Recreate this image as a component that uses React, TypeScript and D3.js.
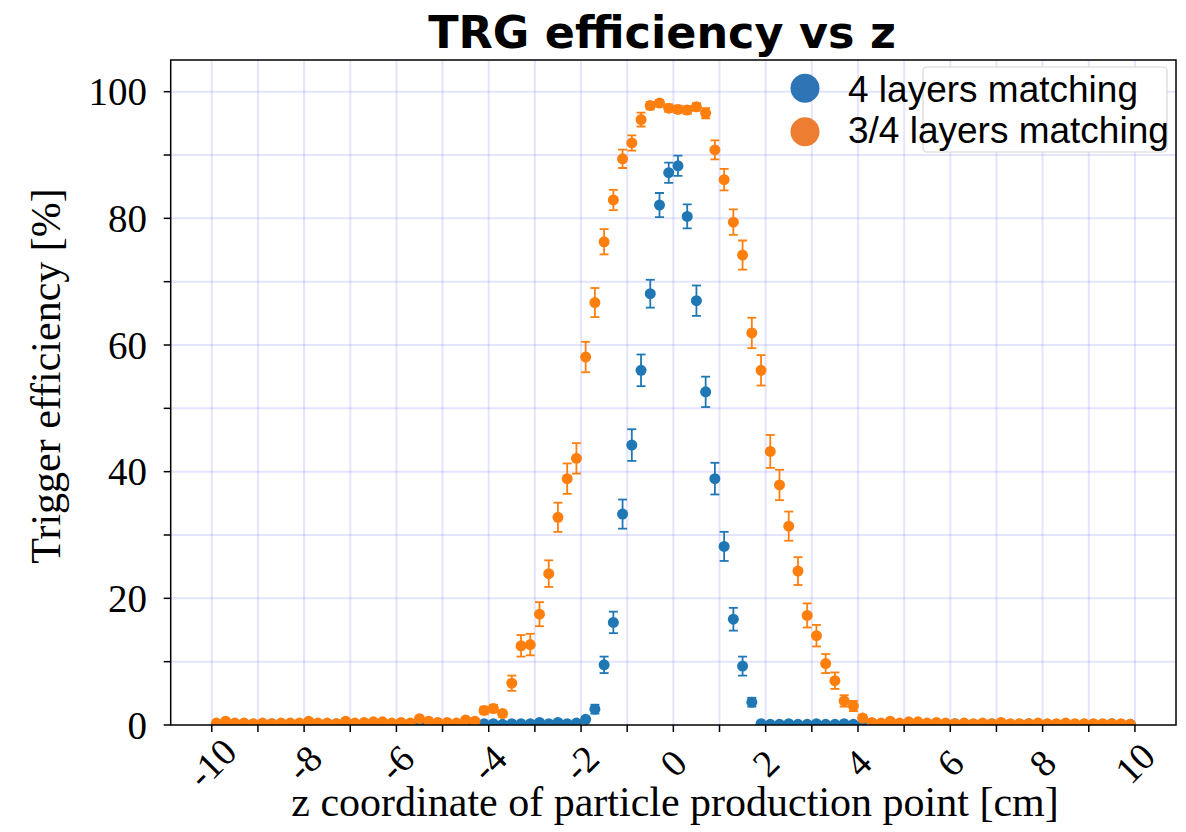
import React, { useEffect } from 'react';
import * as d3 from 'd3';

// ---- data (bin centres in cm) ----
const zCenters = [
  -9.9, -9.7, -9.5, -9.3, -9.1, -8.9, -8.7, -8.5, -8.3, -8.1,
  -7.9, -7.7, -7.5, -7.3, -7.1, -6.9, -6.7, -6.5, -6.3, -6.1,
  -5.9, -5.7, -5.5, -5.3, -5.1, -4.9, -4.7, -4.5, -4.3, -4.1,
  -3.9, -3.7, -3.5, -3.3, -3.1, -2.9, -2.7, -2.5, -2.3, -2.1,
  -1.9, -1.7, -1.5, -1.3, -1.1, -0.9, -0.7, -0.5, -0.3, -0.1,
  0.1, 0.3, 0.5, 0.7, 0.9, 1.1, 1.3, 1.5, 1.7, 1.9,
  2.1, 2.3, 2.5, 2.7, 2.9, 3.1, 3.3, 3.5, 3.7, 3.9,
  4.1, 4.3, 4.5, 4.7, 4.9, 5.1, 5.3, 5.5, 5.7, 5.9,
  6.1, 6.3, 6.5, 6.7, 6.9, 7.1, 7.3, 7.5, 7.7, 7.9,
  8.1, 8.3, 8.5, 8.7, 8.9, 9.1, 9.3, 9.5, 9.7, 9.9,
];

// 4 layers matching [%]
const eff4 = [
  0.1, 0.2, 0.1, 0.2, 0.1, 0.1, 0.2, 0.1, 0.2, 0.1,
  0.2, 0.1, 0.1, 0.2, 0.1, 0.2, 0.1, 0.2, 0.1, 0.1,
  0.2, 0.1, 0.3, 0.1, 0.2, 0.1, 0.1, 0.2, 0.1, 0.2,
  0.2, 0.1, 0.2, 0.2, 0.2, 0.4, 0.2, 0.4, 0.2, 0.3,
  0.9, 2.5, 9.5, 16.2, 33.3, 44.2, 56.0, 68.1, 82.1, 87.2,
  88.3, 80.3, 67.0, 52.6, 38.9, 28.2, 16.7, 9.3, 3.6, 0.2,
  0.1, 0.1, 0.2, 0.1, 0.1, 0.2, 0.1, 0.1, 0.2, 0.1,
  0.1, 0.2, 0.1, 0.1, 0.2, 0.1, 0.1, 0.2, 0.1, 0.1,
  0.2, 0.1, 0.1, 0.1, 0.2, 0.1, 0.1, 0.1, 0.2, 0.1,
  0.1, 0.1, 0.2, 0.1, 0.1, 0.1, 0.1, 0.2, 0.1, 0.1,
];
const err4 = [
  0.1, 0.1, 0.1, 0.1, 0.1, 0.1, 0.1, 0.1, 0.1, 0.1,
  0.1, 0.1, 0.1, 0.1, 0.1, 0.1, 0.1, 0.1, 0.1, 0.1,
  0.1, 0.1, 0.1, 0.1, 0.1, 0.1, 0.1, 0.1, 0.1, 0.1,
  0.1, 0.1, 0.1, 0.1, 0.1, 0.2, 0.1, 0.2, 0.1, 0.2,
  0.4, 0.7, 1.3, 1.7, 2.3, 2.5, 2.5, 2.2, 1.9, 1.6,
  1.6, 1.9, 2.4, 2.4, 2.5, 2.3, 1.8, 1.5, 0.7, 0.2,
  0.1, 0.1, 0.1, 0.1, 0.1, 0.1, 0.1, 0.1, 0.1, 0.1,
  0.1, 0.1, 0.1, 0.1, 0.1, 0.1, 0.1, 0.1, 0.1, 0.1,
  0.1, 0.1, 0.1, 0.1, 0.1, 0.1, 0.1, 0.1, 0.1, 0.1,
  0.1, 0.1, 0.1, 0.1, 0.1, 0.1, 0.1, 0.1, 0.1, 0.1,
];

// 3/4 layers matching [%]
const eff34 = [
  0.3, 0.6, 0.3, 0.3, 0.2, 0.3, 0.2, 0.3, 0.3, 0.3,
  0.6, 0.3, 0.3, 0.2, 0.6, 0.3, 0.4, 0.5, 0.5, 0.3,
  0.4, 0.3, 1.0, 0.6, 0.4, 0.4, 0.3, 0.8, 0.6, 2.3,
  2.6, 1.8, 6.6, 12.5, 12.7, 17.5, 23.9, 32.8, 38.9, 42.1,
  58.1, 66.7, 76.3, 82.9, 89.4, 91.9, 95.6, 97.8, 98.2, 97.4,
  97.2, 97.1, 97.6, 96.6, 90.8, 86.1, 79.4, 74.2, 61.9, 56.0,
  43.2, 37.9, 31.4, 24.3, 17.3, 14.1, 9.7, 7.0, 3.8, 3.0,
  1.1, 0.4, 0.3, 0.6, 0.3, 0.5, 0.5, 0.3, 0.4, 0.3,
  0.2, 0.3, 0.2, 0.3, 0.2, 0.4, 0.2, 0.2, 0.2, 0.3,
  0.2, 0.2, 0.3, 0.2, 0.2, 0.2, 0.2, 0.2, 0.2, 0.1,
];
const err34 = [
  0.2, 0.2, 0.2, 0.2, 0.2, 0.2, 0.2, 0.2, 0.2, 0.2,
  0.2, 0.2, 0.2, 0.2, 0.2, 0.2, 0.2, 0.2, 0.2, 0.2,
  0.2, 0.2, 0.3, 0.2, 0.2, 0.2, 0.2, 0.3, 0.3, 0.6,
  0.6, 0.5, 1.2, 1.7, 1.7, 1.9, 2.1, 2.3, 2.4, 2.4,
  2.4, 2.3, 2.0, 1.6, 1.45, 1.2, 1.1, 0.6, 0.5, 0.6,
  0.6, 0.6, 0.6, 0.8, 1.5, 1.7, 2.0, 2.3, 2.4, 2.4,
  2.6, 2.4, 2.3, 2.2, 1.9, 1.7, 1.5, 1.3, 0.9, 0.8,
  0.5, 0.2, 0.2, 0.2, 0.2, 0.2, 0.2, 0.2, 0.2, 0.2,
  0.2, 0.2, 0.2, 0.2, 0.2, 0.2, 0.2, 0.2, 0.2, 0.2,
  0.2, 0.2, 0.2, 0.2, 0.2, 0.2, 0.2, 0.2, 0.2, 0.2,
];

const xMajorTicks = [-10, -8, -6, -4, -2, 0, 2, 4, 6, 8, 10];
const xMinorTicks = [-9, -7, -5, -3, -1, 1, 3, 5, 7, 9];
const yMajorTicks = [0, 20, 40, 60, 80, 100];
const yMinorTicks = [10, 30, 50, 70, 90];
const seriesNames = ['4 layers matching', '3/4 layers matching'];
const titleText = 'TRG efficiency vs z';
const xLabelText = 'z coordinate of particle production point [cm]';
const yLabelText = 'Trigger efficiency [%]';

const W = 1186;
const H = 832;
const plot = { left: 170.7, right: 1176, top: 60, bottom: 725 };

const SERIF = '"Liberation Serif", "Times New Roman", serif';
const SANS = '"Liberation Sans", Arial, sans-serif';

export default function App() {
  useEffect(() => {
    document.body.style.margin = '0';
  }, []);

  const x = d3.scaleLinear().domain([-10.89, 10.89]).range([plot.left, plot.right]);
  const y = d3.scaleLinear().domain([0, 105]).range([plot.bottom, plot.top]);

  const gridX = d3.range(-10, 11, 1);
  const gridY = d3.range(10, 101, 10);

  const series = [
    { vals: eff4, errs: err4, color: '#1f77b4' },
    { vals: eff34, errs: err34, color: '#ff7f0e' },
  ];

  const gridColor = 'rgba(90, 90, 255, 0.16)';

  return (
    <svg width={W} height={H} style={{ display: 'block', position: 'absolute', left: 0, top: 0, background: '#fff' }}>
      <defs>
        <clipPath id="plotClip">
          <rect x={plot.left} y={plot.top} width={plot.right - plot.left} height={plot.bottom - plot.top} />
        </clipPath>
      </defs>
      <rect x={0} y={0} width={W} height={H} fill="#fff" />

      {/* grid */}
      <g>
        {gridX.map((v) => (
          <line key={'gx' + v} x1={x(v)} x2={x(v)} y1={plot.top} y2={plot.bottom} stroke={gridColor} strokeWidth={2} />
        ))}
        {gridY.map((v) => (
          <line key={'gy' + v} x1={plot.left} x2={plot.right} y1={y(v)} y2={y(v)} stroke={gridColor} strokeWidth={2} />
        ))}
      </g>

      {/* data */}
      <g clipPath="url(#plotClip)">
        {series.map((s, si) => (
          <g key={'s' + si}>
            {zCenters.map((z, i) => {
              const cx = x(z);
              const cy = y(s.vals[i]);
              const y1 = y(s.vals[i] - s.errs[i]);
              const y2 = y(s.vals[i] + s.errs[i]);
              return (
                <g key={i}>
                  <line x1={cx} x2={cx} y1={y1} y2={y2} stroke={s.color} strokeWidth={1.8} />
                  <line x1={cx - 4.5} x2={cx + 4.5} y1={y1} y2={y1} stroke={s.color} strokeWidth={1.8} />
                  <line x1={cx - 4.5} x2={cx + 4.5} y1={y2} y2={y2} stroke={s.color} strokeWidth={1.8} />
                  <circle cx={cx} cy={cy} r={5.5} fill={s.color} />
                </g>
              );
            })}
          </g>
        ))}
      </g>

      {/* spines */}
      <rect x={plot.left} y={plot.top} width={plot.right - plot.left} height={plot.bottom - plot.top} fill="none" stroke="#000" strokeWidth={1.5} />

      {/* x ticks */}
      <g>
        {xMajorTicks.concat(xMinorTicks).map((v) => (
          <line key={'xt' + v} x1={x(v)} x2={x(v)} y1={plot.bottom} y2={plot.bottom + 7} stroke="#000" strokeWidth={1.5} />
        ))}
        {xMajorTicks.map((v) => (
          <text
            key={'xl' + v}
            x={x(v)}
            y={763}
            transform={`rotate(-45, ${x(v)}, 763)`}
            textAnchor="middle"
            dominantBaseline="central"
            fontFamily={SERIF}
            fontSize={38}
            fill="#000"
          >
            {String(v)}
          </text>
        ))}
      </g>

      {/* y ticks */}
      <g>
        {yMajorTicks.concat(yMinorTicks).map((v) => (
          <line key={'yt' + v} x1={plot.left - 7} x2={plot.left} y1={y(v)} y2={y(v)} stroke="#000" strokeWidth={1.5} />
        ))}
        {yMajorTicks.map((v) => (
          <text
            key={'yl' + v}
            x={147}
            y={y(v)}
            textAnchor="end"
            dominantBaseline="central"
            fontFamily={SERIF}
            fontSize={39}
            fill="#000"
          >
            {String(v)}
          </text>
        ))}
      </g>

      {/* axis labels */}
      <text x={675} y={816} textAnchor="middle" fontFamily={SERIF} fontSize={42} fill="#000">
        {xLabelText}
      </text>
      <text
        x={0}
        y={0}
        transform={`translate(60, 376) rotate(-90)`}
        textAnchor="middle"
        fontFamily={SERIF}
        fontSize={42}
        fill="#000"
      >
        {yLabelText}
      </text>

      {/* title */}
      <text x={662} y={48} textAnchor="middle" fontFamily='"DejaVu Sans", Verdana, sans-serif' fontWeight="bold" fontSize={44.5} fill="#000">
        {titleText}
      </text>

      {/* legend */}
      <rect x={923} y={67} width={244} height={85} rx={4} fill="#fff" stroke="#d6d6d6" strokeWidth={1.2} />
      <circle cx={805} cy={88.3} r={14.5} fill="#2e75b6" />
      <circle cx={805} cy={131.7} r={14.5} fill="#ed7d31" />
      <text x={848} y={101.7} fontFamily={SANS} fontSize={37} fill="#000">
        {seriesNames[0]}
      </text>
      <text x={848} y={143.3} fontFamily={SANS} fontSize={37} fill="#000">
        {seriesNames[1]}
      </text>
    </svg>
  );
}
